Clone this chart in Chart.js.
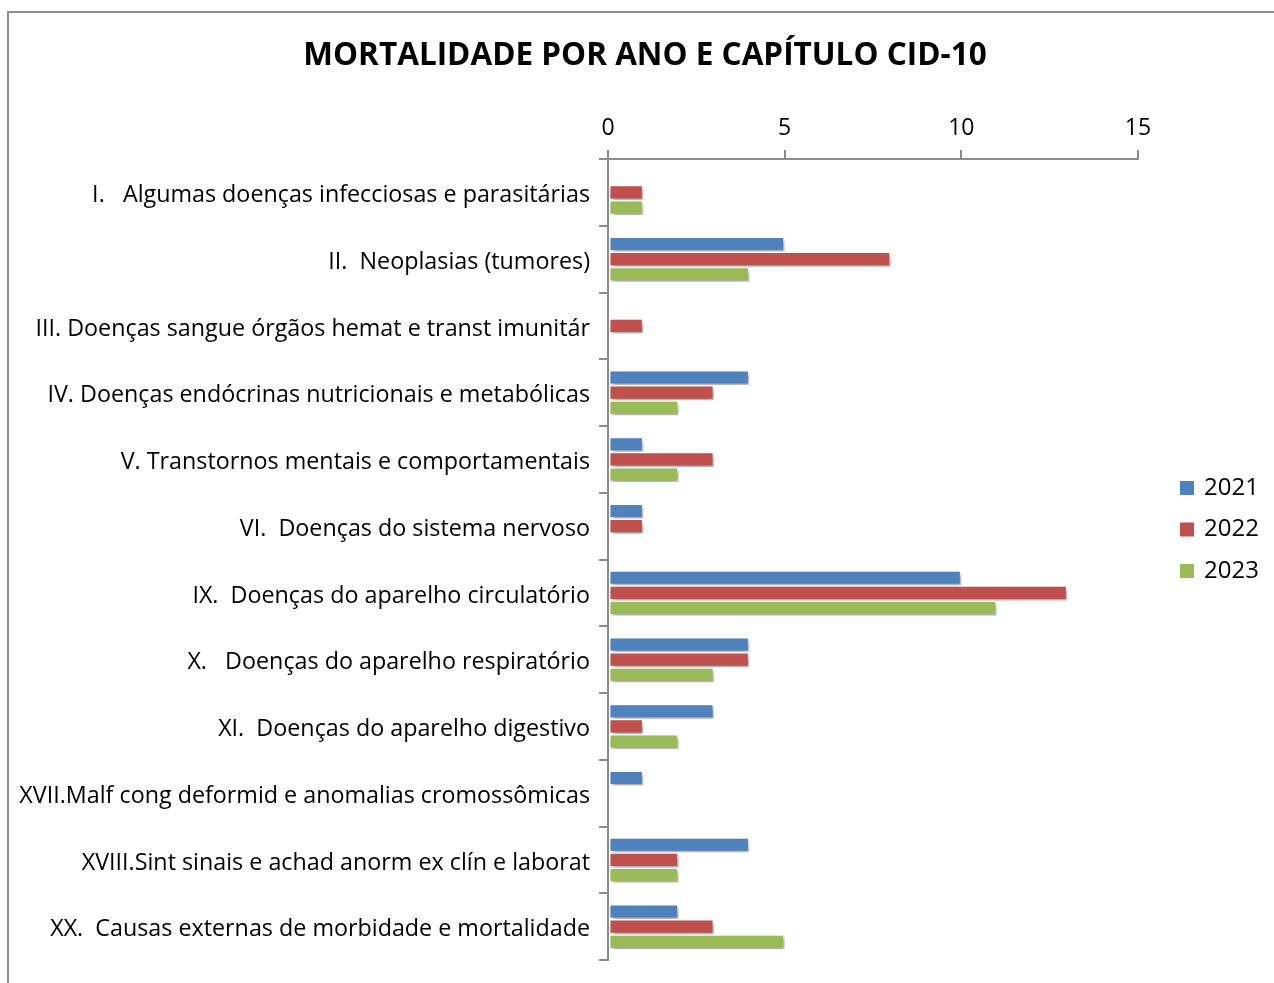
<!DOCTYPE html>
<html>
<head>
<meta charset="utf-8">
<script src="https://cdn.jsdelivr.net/npm/chart.js@4"></script>
<style>
  html, body { margin: 0; padding: 0; background: #fff; }
  #frame { position: absolute; left: 7px; top: 11px; width: 1300px; height: 1000px;
           border-left: 2px solid #8e8e8e; border-top: 2px solid #8e8e8e; }
  #wrap { position: absolute; left: 0; top: 0; width: 1274px; height: 983px; }
</style>
</head>
<body>
<div id="frame"></div>
<div id="wrap"><canvas id="c"></canvas></div>
<script>
// 카테고리 (CID-10 장)
const categories = [
  'I.   Algumas doenças infecciosas e parasitárias',
  'II.  Neoplasias (tumores)',
  'III. Doenças sangue órgãos hemat e transt imunitár',
  'IV. Doenças endócrinas nutricionais e metabólicas',
  'V. Transtornos mentais e comportamentais',
  'VI.  Doenças do sistema nervoso',
  'IX.  Doenças do aparelho circulatório',
  'X.   Doenças do aparelho respiratório',
  'XI.  Doenças do aparelho digestivo',
  'XVII.Malf cong deformid e anomalias cromossômicas',
  'XVIII.Sint sinais e achad anorm ex clín e laborat',
  'XX.  Causas externas de morbidade e mortalidade'
];

const years = ['2021', '2022', '2023'];
const values2021 = [0, 5, 0, 4, 1, 1, 10, 4, 3, 1, 4, 2];
const values2022 = [1, 8, 1, 3, 3, 1, 13, 4, 1, 0, 2, 3];
const values2023 = [1, 4, 0, 2, 2, 0, 11, 3, 2, 0, 2, 5];
const xTicks = [0, 5, 10, 15];

const colors = ['#4F81BD', '#C0504D', '#9BBB59'];
const FONT = '"Open Sans", sans-serif';

// 막대 그림자 (엑셀 스타일)
const shadowPlugin = {
  id: 'barShadow',
  beforeDatasetDraw(chart) {
    const ctx = chart.ctx;
    ctx.save();
    ctx.shadowColor = 'rgba(0,0,0,0.35)';
    ctx.shadowBlur = 4;
    ctx.shadowOffsetX = 2;
    ctx.shadowOffsetY = 3;
  },
  afterDatasetDraw(chart) {
    chart.ctx.restore();
  }
};

// 제목 + 범례 직접 그리기
const decorPlugin = {
  id: 'decor',
  afterDraw(chart) {
    const ctx = chart.ctx;
    ctx.save();
    ctx.fillStyle = '#000';
    ctx.font = 'bold 31.5px ' + FONT;
    ctx.textAlign = 'center';
    ctx.textBaseline = 'middle';
    ctx.fillText('MORTALIDADE POR ANO E CAPÍTULO CID-10', 645, 56);

    ctx.font = '24px ' + FONT;
    ctx.textAlign = 'left';
    chart.data.datasets.forEach((ds, i) => {
      const y = 488 + i * 41.5;
      ctx.fillStyle = ds.backgroundColor;
      ctx.fillRect(1180, y - 7, 14, 14);
      ctx.fillStyle = '#000';
      ctx.fillText(ds.label, 1204, y);
    });
    ctx.restore();
  }
};

const seriesValues = [values2021, values2022, values2023];

new Chart(document.getElementById('c'), {
  type: 'bar',
  data: {
    labels: categories,
    datasets: years.map((y, i) => ({
      label: y,
      data: seriesValues[i],
      backgroundColor: colors[i],
      borderColor: '#ffffff',
      borderWidth: 1.5,
      borderSkipped: false,
      categoryPercentage: 0.68,
      barPercentage: 1.0
    }))
  },
  plugins: [shadowPlugin, decorPlugin],
  options: {
    indexAxis: 'y',
    responsive: true,
    maintainAspectRatio: false,
    animation: false,
    layout: { padding: { left: 8, right: 136, top: 100, bottom: 22 } },
    plugins: {
      legend: { display: false },
      title: { display: false },
      tooltip: { enabled: false }
    },
    scales: {
      x: {
        position: 'top',
        min: 0,
        max: 15,
        afterFit(scale) { scale.height = 59; },
        afterBuildTicks(scale) { scale.ticks = xTicks.map(v => ({ value: v })); },
        ticks: {
          color: '#000',
          font: { family: FONT, size: 23 },
          padding: 8
        },
        grid: {
          drawOnChartArea: false,
          drawTicks: true,
          tickLength: 9,
          color: '#8c8c8c',
          lineWidth: 2
        },
        border: { color: '#8c8c8c', width: 2 }
      },
      y: {
        afterFit(scale) { scale.width = 600; },
        ticks: {
          color: '#000',
          font: { family: FONT, size: 23.3 },
          padding: 9,
          labelOffset: 3,
          autoSkip: false
        },
        grid: {
          offset: true,
          drawOnChartArea: false,
          drawTicks: true,
          tickLength: 9,
          color: '#8c8c8c',
          lineWidth: 2
        },
        border: { color: '#8c8c8c', width: 2 }
      }
    }
  }
});
</script>
</body>
</html>
